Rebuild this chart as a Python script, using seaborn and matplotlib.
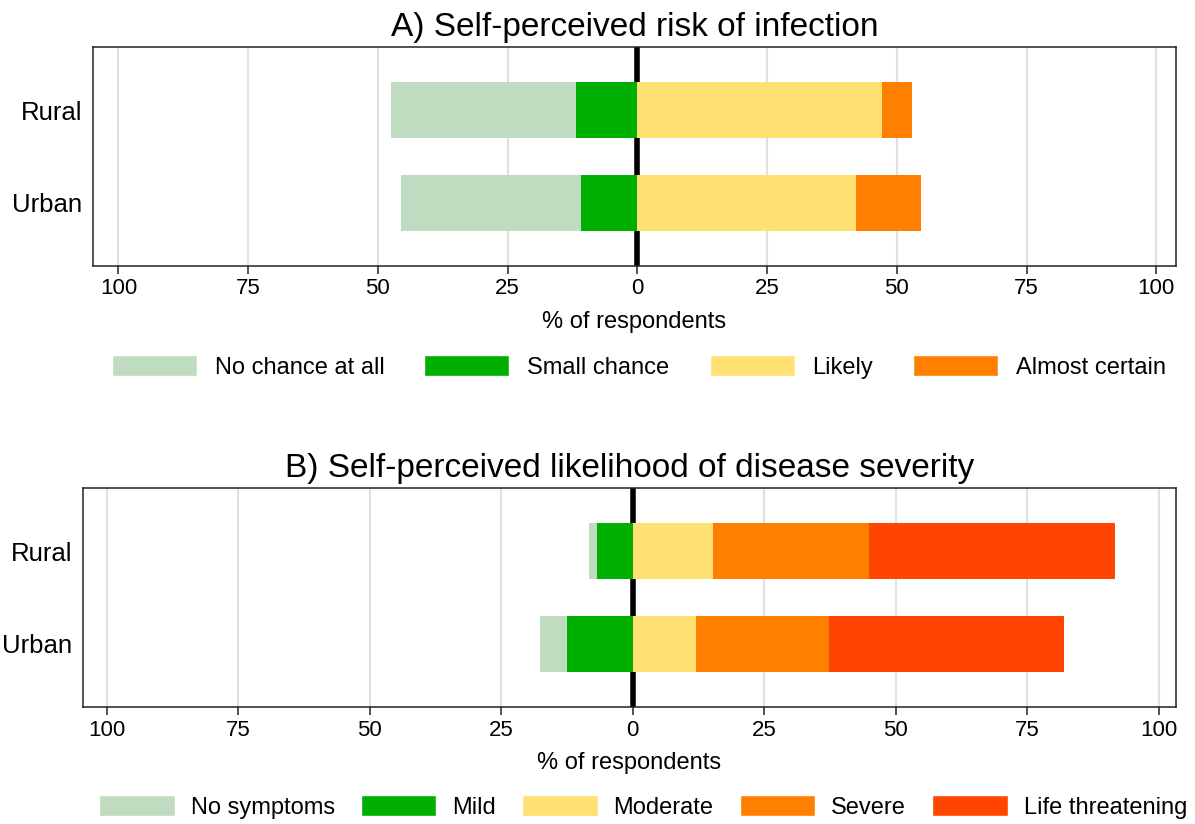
"""Diverging stacked bar charts of perceived COVID risk by area."""

import matplotlib

matplotlib.use("Agg")

import matplotlib.pyplot as plt
import numpy as np
import seaborn as sns
from matplotlib.patches import Patch

areas = ["Rural", "Urban"]

# Panel A: self-perceived risk of infection (% of respondents)
risk_labels = ["No chance at all", "Small chance", "Likely", "Almost certain"]
risk_no_chance = [35.6, 34.7]
risk_small = [11.8, 10.9]
risk_likely = [47.2, 42.2]
risk_almost = [5.7, 12.5]

# Panel B: self-perceived likelihood of disease severity (% of respondents)
sev_labels = ["No symptoms", "Mild", "Moderate", "Severe", "Life threatening"]
sev_none = [1.5, 5.1]
sev_mild = [6.8, 12.5]
sev_moderate = [15.3, 12.0]
sev_severe = [29.7, 25.4]
sev_life = [46.7, 44.7]

tick_values = [-100, -75, -50, -25, 0, 25, 50, 75, 100]

C_LIGHT_GREEN = "#c0dcc0"
C_GREEN = "#00b000"
C_YELLOW = "#ffe073"
C_ORANGE = "#ff8000"
C_RED = "#ff4500"

W, H = 1195, 824


def draw_side(ax, series, colors, sign):
    """Draw stacked segments (listed from zero outwards) as overlapping cumulative bars."""
    cumulative = np.cumsum(np.array(series, dtype=float), axis=0) * sign
    for values, color in reversed(list(zip(cumulative, colors))):
        sns.barplot(
            x=values,
            y=areas,
            order=areas,
            orient="h",
            color=color,
            saturation=1,
            width=0.6,
            linewidth=0,
            errorbar=None,
            ax=ax,
            zorder=3,
        )


def style_axis(ax, title, xlim):
    for x in tick_values:
        if x != 0:
            ax.axvline(x, color="#e0e0e0", linewidth=1.5, zorder=1)
    ax.axvline(0, color="black", linewidth=4, zorder=2)
    ax.set_xlim(*xlim)
    ax.set_ylim(1.68, -0.68)
    ax.set_xticks(tick_values)
    ax.set_xticklabels([str(abs(v)) for v in tick_values])
    ax.tick_params(
        axis="x", which="major", bottom=True, direction="out", labelsize=16,
        length=6, width=1.1, color="#222222", labelcolor="black", pad=3,
    )
    ax.tick_params(axis="y", left=False, labelsize=18.5, length=0, pad=8, labelcolor="black")
    ax.set_xlabel("% of respondents", fontsize=17, labelpad=8, color="black")
    ax.set_ylabel("")
    ax.set_title(title, fontsize=24, pad=8, color="black")
    for spine in ax.spines.values():
        spine.set_visible(True)
        spine.set_color("#222222")
        spine.set_linewidth(1.1)


def add_axes_px(fig, left, top, right, bottom):
    return fig.add_axes([left / W, 1 - bottom / H, (right - left) / W, (bottom - top) / H])


sns.set_theme(style="ticks")
plt.rcParams["font.family"] = ["Liberation Sans", "DejaVu Sans"]
plt.rcParams["text.color"] = "black"

fig = plt.figure(figsize=(W / 100, H / 100), dpi=100)

ax_a = add_axes_px(fig, 93, 47, 1176, 266)
draw_side(ax_a, [risk_small, risk_no_chance], [C_GREEN, C_LIGHT_GREEN], -1)
draw_side(ax_a, [risk_likely, risk_almost], [C_YELLOW, C_ORANGE], 1)
style_axis(ax_a, "A) Self-perceived risk of infection", (-104.9, 103.8))

ax_b = add_axes_px(fig, 83, 488, 1176, 707)
draw_side(ax_b, [sev_mild, sev_none], [C_GREEN, C_LIGHT_GREEN], -1)
draw_side(ax_b, [sev_moderate, sev_severe, sev_life], [C_YELLOW, C_ORANGE, C_RED], 1)
style_axis(ax_b, "B) Self-perceived likelihood of disease severity", (-104.5, 103.3))

risk_handles = [
    Patch(facecolor=c, label=l)
    for c, l in zip([C_LIGHT_GREEN, C_GREEN, C_YELLOW, C_ORANGE], risk_labels)
]
fig.legend(
    handles=risk_handles,
    loc="center",
    bbox_to_anchor=(639 / W, 1 - 367 / H),
    ncol=4,
    frameon=False,
    fontsize=17,
    handlelength=3.6,
    handleheight=1.0,
    handletextpad=0.76,
    columnspacing=1.7,
)

sev_handles = [
    Patch(facecolor=c, label=l)
    for c, l in zip([C_LIGHT_GREEN, C_GREEN, C_YELLOW, C_ORANGE, C_RED], sev_labels)
]
fig.legend(
    handles=sev_handles,
    loc="center",
    bbox_to_anchor=(643 / W, 1 - 807 / H),
    ncol=5,
    frameon=False,
    fontsize=17,
    handlelength=3.2,
    handleheight=1.0,
    handletextpad=0.68,
    columnspacing=1.1,
)

fig.savefig("out.png", dpi=100)
plt.close(fig)
